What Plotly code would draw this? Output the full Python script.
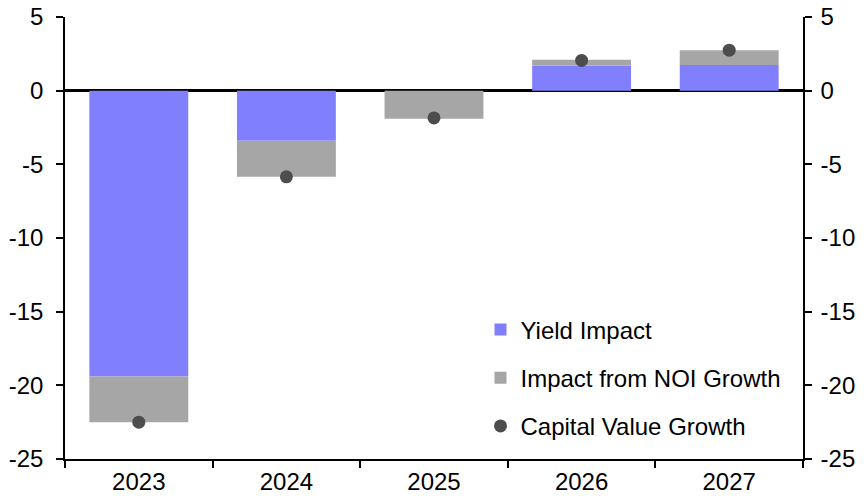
import plotly.graph_objects as go

years = ["2023", "2024", "2025", "2026", "2027"]
yield_impact = [-19.4, -3.4, 0.0, 1.7, 1.75]
noi_impact = [-3.1, -2.45, -1.9, 0.4, 1.0]
capital_value_growth = [-22.5, -5.85, -1.85, 2.05, 2.75]
y_tick_values = [-25, -20, -15, -10, -5, 0, 5]
y_tick_labels = ["-25", "-20", "-15", "-10", "-5", "0", "5"]

font_family = "Liberation Sans, Arial, sans-serif"
fs = 24

fig = go.Figure()
fig.add_trace(go.Bar(x=years, y=yield_impact, name="Yield Impact",
                     marker=dict(color="#8080FF", line=dict(width=0)),
                     legendgroup="a"))
fig.add_trace(go.Bar(x=years, y=noi_impact, name="Impact from NOI Growth",
                     marker=dict(color="#A6A6A6", line=dict(width=0)),
                     legendgroup="b"))
fig.add_trace(go.Scatter(x=years, y=capital_value_growth, name="Capital Value Growth",
                         mode="markers", marker=dict(color="#4D4D4D", size=13),
                         legendgroup="c"))
fig.add_trace(go.Scatter(x=years, y=capital_value_growth, yaxis="y2", mode="markers",
                         marker=dict(opacity=0), showlegend=False, hoverinfo="skip"))

axis_common = dict(range=[-25, 5], tickvals=y_tick_values, ticktext=y_tick_labels,
                   showgrid=False, showline=True, linecolor="black", linewidth=1.5,
                   ticks="outside", ticklen=7, tickcolor="black", tickwidth=1.5,
                   automargin=False,
                   tickfont=dict(size=fs, color="black", family=font_family))

fig.update_layout(
    width=866, height=502,
    margin=dict(l=65, r=63, t=17, b=43),
    plot_bgcolor="white", paper_bgcolor="white",
    barmode="relative", bargap=0.33,
    font=dict(family=font_family, size=fs, color="black"),
    xaxis=dict(showgrid=False, showline=True, linecolor="black", linewidth=1.5,
               ticks="outside", tickson="boundaries", ticklen=7, tickcolor="black",
               tickwidth=1.5, automargin=False,
               tickfont=dict(size=fs, color="black", family=font_family)),
    yaxis=dict(**axis_common, zeroline=True, zerolinecolor="black", zerolinewidth=2.5,
               ticklabelstandoff=8),
    yaxis2=dict(**axis_common, overlaying="y", side="right", zeroline=False,
                matches="y", ticklabelstandoff=4),
    legend=dict(x=0.563, y=0.343, xanchor="left", yanchor="top",
                bgcolor="rgba(0,0,0,0)", font=dict(size=fs, family=font_family),
                traceorder="grouped", tracegroupgap=14, itemwidth=30),
    showlegend=True,
)

fig.write_html("out.html", config={"displayModeBar": False},
               post_script="document.body.style.margin='0';document.body.style.padding='0';")
